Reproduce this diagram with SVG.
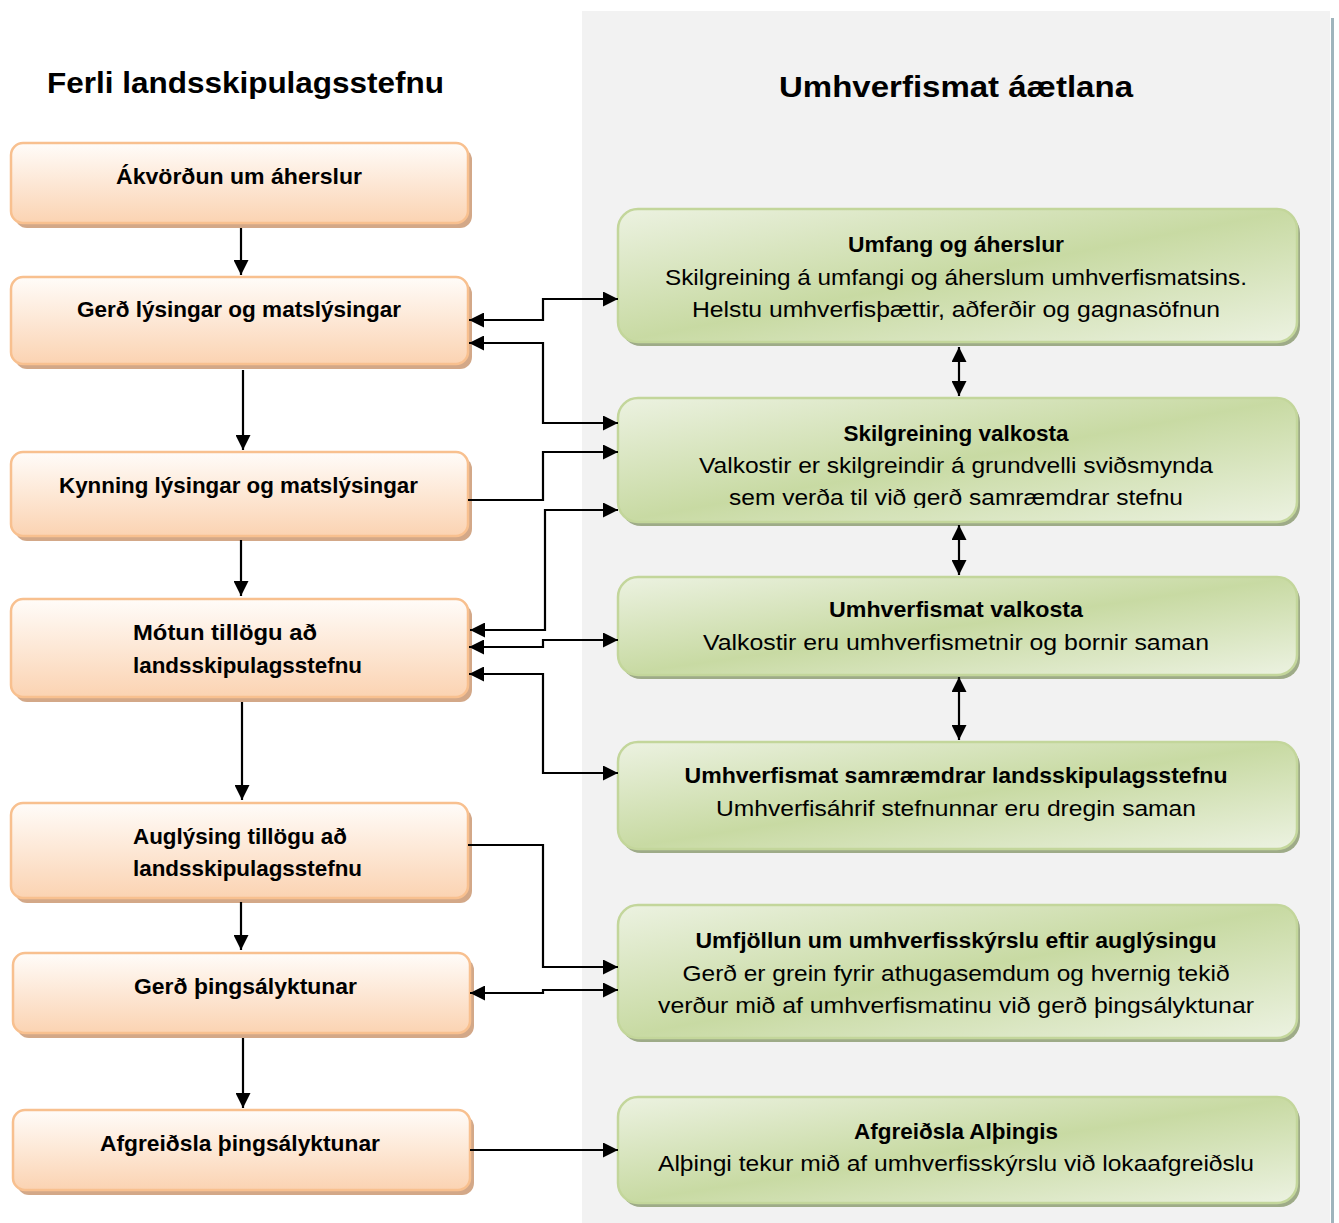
<svg xmlns="http://www.w3.org/2000/svg" width="1339" height="1223" viewBox="0 0 1339 1223">
<style>
  text{font-family:"Liberation Sans",Arial,sans-serif;fill:#000}
  .title{font-size:30px;font-weight:bold}
  .lb{font-size:22px;font-weight:bold}
  .rt{font-size:22px;font-weight:bold;text-anchor:middle}
  .rr{font-size:22px;text-anchor:middle}
  .lbc{text-anchor:middle}
  .onode{fill:url(#og);stroke:#f8c08f;stroke-width:2.5}
  .oshadow{fill:#d3a888}
  .gnode{fill:url(#gg);stroke:#c3d69b;stroke-width:2.5}
  .gshadow{fill:#9eab88}
  .conn{fill:none;stroke:#000;stroke-width:2.2}
</style>
<defs>
  <linearGradient id="og" x1="0" y1="0" x2="0" y2="1">
    <stop offset="0" stop-color="#fffcf9"/>
    <stop offset="1" stop-color="#fbd3b2"/>
  </linearGradient>
  <linearGradient id="gg" x1="0" y1="0" x2="1" y2="1">
    <stop offset="0" stop-color="#ecf2e1"/>
    <stop offset="0.5" stop-color="#c8daa3"/>
    <stop offset="1" stop-color="#ecf2e1"/>
  </linearGradient>
  <marker id="ah" markerUnits="userSpaceOnUse" markerWidth="16" markerHeight="15" refX="15" refY="7.5" orient="auto-start-reverse">
    <path d="M0,0 L15,7.5 L0,15 z" fill="#000"/>
  </marker>
  <clipPath id="clipR2">
    <rect x="600" y="380" width="720" height="128"/>
  </clipPath>
</defs>

<rect x="0" y="0" width="1339" height="1223" fill="#ffffff"/>
<rect x="582" y="11" width="748" height="1212" fill="#f2f2f2"/>
<rect x="1331" y="18" width="3" height="1205" fill="#9fb4bc"/>

<text class="title" x="47" y="93" textLength="397" lengthAdjust="spacingAndGlyphs">Ferli landsskipulagsstefnu</text>
<text class="title" x="779" y="97" textLength="354" lengthAdjust="spacingAndGlyphs">Umhverfismat áætlana</text>

<g id="L1">
  <rect class="oshadow" x="15" y="148" width="457" height="80" rx="12"/>
  <rect class="onode" x="11" y="143" width="457" height="80" rx="12"/>
  <text class="lb" x="116" y="184" textLength="246" lengthAdjust="spacingAndGlyphs">Ákvörðun um áherslur</text>
</g>
<g id="L2">
  <rect class="oshadow" x="15" y="282" width="457" height="87" rx="12"/>
  <rect class="onode" x="11" y="277" width="457" height="87" rx="12"/>
  <text class="lb" x="77" y="317" textLength="324" lengthAdjust="spacingAndGlyphs">Gerð lýsingar og matslýsingar</text>
</g>
<g id="L3">
  <rect class="oshadow" x="15" y="457" width="457" height="84" rx="12"/>
  <rect class="onode" x="11" y="452" width="457" height="84" rx="12"/>
  <text class="lb" x="59" y="493" textLength="359" lengthAdjust="spacingAndGlyphs">Kynning lýsingar og matslýsingar</text>
</g>
<g id="L4">
  <rect class="oshadow" x="15" y="604" width="457" height="98" rx="12"/>
  <rect class="onode" x="11" y="599" width="457" height="98" rx="12"/>
  <text class="lb" x="133" y="640" textLength="184" lengthAdjust="spacingAndGlyphs">Mótun tillögu að</text>
  <text class="lb" x="133" y="673" textLength="229" lengthAdjust="spacingAndGlyphs">landsskipulagsstefnu</text>
</g>
<g id="L5">
  <rect class="oshadow" x="15" y="808" width="457" height="95" rx="12"/>
  <rect class="onode" x="11" y="803" width="457" height="95" rx="12"/>
  <text class="lb" x="133" y="844" textLength="214" lengthAdjust="spacingAndGlyphs">Auglýsing tillögu að</text>
  <text class="lb" x="133" y="876" textLength="229" lengthAdjust="spacingAndGlyphs">landsskipulagsstefnu</text>
</g>
<g id="L6">
  <rect class="oshadow" x="17" y="958" width="457" height="80" rx="12"/>
  <rect class="onode" x="13" y="953" width="457" height="80" rx="12"/>
  <text class="lb" x="134" y="994" textLength="223" lengthAdjust="spacingAndGlyphs">Gerð þingsályktunar</text>
</g>
<g id="L7">
  <rect class="oshadow" x="17" y="1115" width="457" height="80" rx="12"/>
  <rect class="onode" x="13" y="1110" width="457" height="80" rx="12"/>
  <text class="lb" x="100" y="1151" textLength="280" lengthAdjust="spacingAndGlyphs">Afgreiðsla þingsályktunar</text>
</g>

<g id="R1">
  <rect class="gshadow" x="621" y="213" width="679" height="133" rx="20"/>
  <rect class="gnode" x="618" y="209" width="679" height="133" rx="20"/>
  <text class="rt" x="956" y="252" textLength="216" lengthAdjust="spacingAndGlyphs">Umfang og áherslur</text>
  <text class="rr" x="956" y="285" textLength="582" lengthAdjust="spacingAndGlyphs">Skilgreining á umfangi og áherslum umhverfismatsins.</text>
  <text class="rr" x="956" y="317" textLength="528" lengthAdjust="spacingAndGlyphs">Helstu umhverfisþættir, aðferðir og gagnasöfnun</text>
</g>
<g id="R2">
  <rect class="gshadow" x="621" y="402" width="679" height="124" rx="20"/>
  <rect class="gnode" x="618" y="398" width="679" height="124" rx="20"/>
  <g clip-path="url(#clipR2)">
    <text class="rt" x="956" y="441" textLength="225" lengthAdjust="spacingAndGlyphs">Skilgreining valkosta</text>
    <text class="rr" x="956" y="473" textLength="514" lengthAdjust="spacingAndGlyphs">Valkostir er skilgreindir á grundvelli sviðsmynda</text>
    <text class="rr" x="956" y="505" textLength="454" lengthAdjust="spacingAndGlyphs">sem verða til við gerð samræmdrar stefnu</text>
  </g>
</g>
<g id="R3">
  <rect class="gshadow" x="621" y="581" width="679" height="98" rx="20"/>
  <rect class="gnode" x="618" y="577" width="679" height="98" rx="20"/>
  <text class="rt" x="956" y="617" textLength="254" lengthAdjust="spacingAndGlyphs">Umhverfismat valkosta</text>
  <text class="rr" x="956" y="650" textLength="506" lengthAdjust="spacingAndGlyphs">Valkostir eru umhverfismetnir og bornir saman</text>
</g>
<g id="R4">
  <rect class="gshadow" x="621" y="746" width="679" height="107" rx="20"/>
  <rect class="gnode" x="618" y="742" width="679" height="107" rx="20"/>
  <text class="rt" x="956" y="783" textLength="543" lengthAdjust="spacingAndGlyphs">Umhverfismat samræmdrar landsskipulagsstefnu</text>
  <text class="rr" x="956" y="816" textLength="480" lengthAdjust="spacingAndGlyphs">Umhverfisáhrif stefnunnar eru dregin saman</text>
</g>
<g id="R5">
  <rect class="gshadow" x="621" y="909" width="679" height="133" rx="20"/>
  <rect class="gnode" x="618" y="905" width="679" height="133" rx="20"/>
  <text class="rt" x="956" y="948" textLength="521" lengthAdjust="spacingAndGlyphs">Umfjöllun um umhverfisskýrslu eftir auglýsingu</text>
  <text class="rr" x="956" y="981" textLength="547" lengthAdjust="spacingAndGlyphs">Gerð er grein fyrir athugasemdum og hvernig tekið</text>
  <text class="rr" x="956" y="1013" textLength="596" lengthAdjust="spacingAndGlyphs">verður mið af umhverfismatinu við gerð þingsályktunar</text>
</g>
<g id="R6">
  <rect class="gshadow" x="621" y="1101" width="679" height="106" rx="20"/>
  <rect class="gnode" x="618" y="1097" width="679" height="106" rx="20"/>
  <text class="rt" x="956" y="1139" textLength="204" lengthAdjust="spacingAndGlyphs">Afgreiðsla Alþingis</text>
  <text class="rr" x="956" y="1171" textLength="596" lengthAdjust="spacingAndGlyphs">Alþingi tekur mið af umhverfisskýrslu við lokaafgreiðslu</text>
</g>

<g id="connectors">
  <path class="conn" d="M241,228 V275" marker-end="url(#ah)"/>
  <path class="conn" d="M243,370 V450" marker-end="url(#ah)"/>
  <path class="conn" d="M241,540 V596" marker-end="url(#ah)"/>
  <path class="conn" d="M242,702 V800" marker-end="url(#ah)"/>
  <path class="conn" d="M241,902 V950" marker-end="url(#ah)"/>
  <path class="conn" d="M243,1038 V1108" marker-end="url(#ah)"/>

  <path class="conn" d="M959,347 V396" marker-start="url(#ah)" marker-end="url(#ah)"/>
  <path class="conn" d="M959,525 V575" marker-start="url(#ah)" marker-end="url(#ah)"/>
  <path class="conn" d="M959,677 V740" marker-start="url(#ah)" marker-end="url(#ah)"/>

  <path class="conn" d="M469,320 H543 V299 H618" marker-start="url(#ah)" marker-end="url(#ah)"/>
  <path class="conn" d="M469,343 H543 V423 H618" marker-start="url(#ah)" marker-end="url(#ah)"/>
  <path class="conn" d="M468,500 H543 V452 H618" marker-end="url(#ah)"/>
  <path class="conn" d="M470,630 H545 V510 H618" marker-start="url(#ah)" marker-end="url(#ah)"/>
  <path class="conn" d="M469,647 H543 V640 H618" marker-start="url(#ah)" marker-end="url(#ah)"/>
  <path class="conn" d="M469,674 H543 V773 H618" marker-start="url(#ah)" marker-end="url(#ah)"/>
  <path class="conn" d="M468,845 H543 V967 H618" marker-end="url(#ah)"/>
  <path class="conn" d="M470,993 H543 V990 H618" marker-start="url(#ah)" marker-end="url(#ah)"/>
  <path class="conn" d="M470,1150 H618" marker-end="url(#ah)"/>
</g>
</svg>
